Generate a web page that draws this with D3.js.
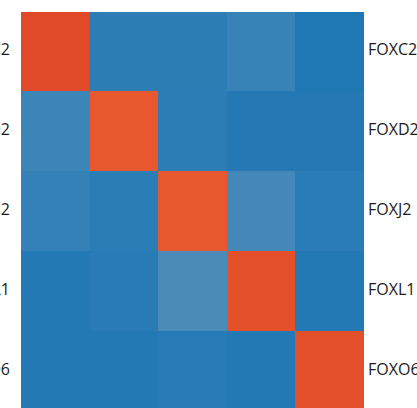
<!DOCTYPE html>
<html>
<head>
<meta charset="utf-8">
<script src="https://cdn.jsdelivr.net/npm/d3@7"></script>
<style>
  html, body { margin: 0; padding: 0; background: #fff; overflow: hidden; }
  svg { display: block; }
  .tick text { font-family: "Open Sans", sans-serif; font-size: 16px; fill: #1a1a1a; }
</style>
</head>
<body>
<svg id="chart" width="417" height="408"></svg>
<script>
// Gene labels (rows and columns share the same order)
const genes = ["FOXC2", "FOXD2", "FOXJ2", "FOXL1", "FOXO6"];

// Matrix values, one array per row
const rowFOXC2 = [1.00, 0.042, 0.042, 0.072, 0.000];
const rowFOXD2 = [0.088, 0.95, 0.040, 0.015, 0.015];
const rowFOXJ2 = [0.062, 0.036, 0.95, 0.110, 0.030];
const rowFOXL1 = [0.010, 0.028, 0.130, 0.98, 0.010];
const rowFOXO6 = [0.012, 0.012, 0.020, 0.012, 0.98];
const matrix = [rowFOXC2, rowFOXD2, rowFOXJ2, rowFOXL1, rowFOXO6];

const svg = d3.select("#chart");
const mLeft = 21, mRight = 364, mTop = 11.5, mBottom = 410.5;

const x = d3.scaleBand().domain(genes).range([mLeft, mRight]);
const y = d3.scaleBand().domain(genes).range([mTop, mBottom]);

const color = d3.scaleLinear()
  .domain([0, 0.5, 0.95, 1])
  .range(["#1f77b4", "#c4c4c4", "#e8582e", "#e14a28"])
  .clamp(true);

const cells = [];
matrix.forEach((row, i) => row.forEach((v, j) => cells.push({ r: genes[i], c: genes[j], v })));

svg.append("g")
  .selectAll("rect")
  .data(cells)
  .join("rect")
  .attr("x", d => x(d.c))
  .attr("y", d => y(d.r))
  .attr("width", x.bandwidth())
  .attr("height", y.bandwidth())
  .attr("fill", d => color(d.v))
  .attr("shape-rendering", "crispEdges");

const yLeft = svg.append("g")
  .attr("transform", `translate(${mLeft},0)`)
  .call(d3.axisLeft(y).tickSize(0).tickPadding(11));
yLeft.select(".domain").remove();
yLeft.selectAll("text").attr("dy", "0.25em");

const yRight = svg.append("g")
  .attr("transform", `translate(${mRight},0)`)
  .call(d3.axisRight(y).tickSize(0).tickPadding(4));
yRight.select(".domain").remove();
yRight.selectAll("text").attr("dy", "0.25em");
</script>
</body>
</html>
